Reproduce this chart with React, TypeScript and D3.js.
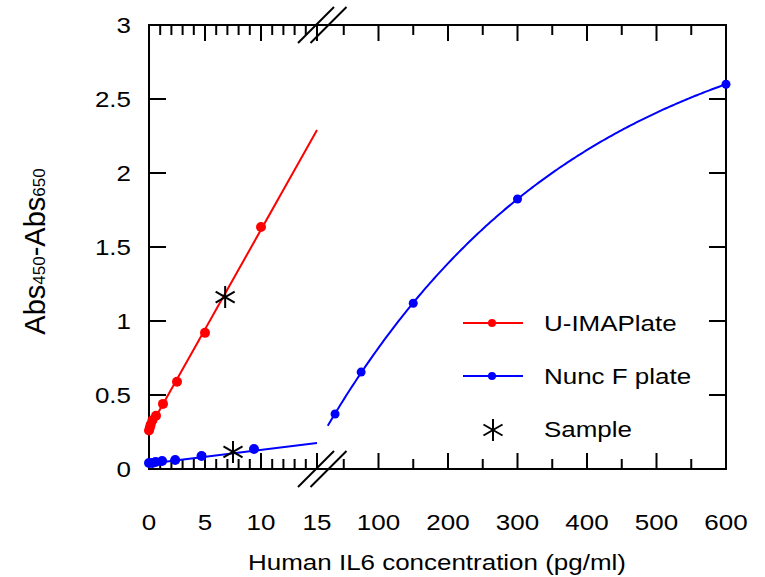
import React from "react";
import * as d3 from "d3";

// ---- data ----
const redConc = [0, 0.078, 0.156, 0.3125, 0.625, 1.25, 2.5, 5, 10];
const redAbs = [0.26, 0.28, 0.3, 0.33, 0.36, 0.44, 0.59, 0.92, 1.635];
const blueConcLow = [0, 0.293, 0.586, 1.17, 2.34, 4.69, 9.375];
const blueAbsLow = [0.04, 0.041, 0.047, 0.054, 0.061, 0.088, 0.135];
const blueConcHigh = [37.5, 75, 150, 300, 600];
const blueAbsHigh = [0.372, 0.655, 1.12, 1.824, 2.6];
const sampleConc = [6.8, 7.5];
const sampleAbs = [1.162, 0.115];

// fitted calibration curves (coefficients)
const redFit = { a: 0.27, b: 0.1347 };
const blueLowFit = { a: 0.035, b: 0.0094 };
const blueHighFit = { c: 0.07, A: 3.146, k: 0.002718 };

const leftTicks = d3.range(0, 16, 1);
const leftLabels = [0, 5, 10, 15];
const rightTicks = d3.range(50, 601, 50);
const rightLabels = [100, 200, 300, 400, 500, 600];
const yTicks = [0, 0.5, 1, 1.5, 2, 2.5, 3];

const legendItems = ["U-IMAPlate", "Nunc F plate", "Sample"];

const W = 765;
const H = 577;
const FONT = "'Liberation Sans', Arial, sans-serif";
const SX = 1.18;

const xL = d3.scaleLinear().domain([0, 15]).range([149, 317]);
const xR = d3.scaleLinear().domain([0, 600]).range([309, 726]);
const y = d3.scaleLinear().domain([0, 3]).range([469, 25]);

const T = ({ x, y: yy, anchor = "middle", size = 22, children }: any) => (
  <text
    transform={`translate(${x},${yy}) scale(${SX},1)`}
    textAnchor={anchor}
    fontSize={size}
    fontFamily={FONT}
    fill="#000"
  >
    {children}
  </text>
);

const Asterisk = ({ cx, cy, r = 11 }: any) => {
  const angles = [90, 30, 150];
  return (
    <g stroke="#000" strokeWidth={2}>
      {angles.map((a) => {
        const rad = (a * Math.PI) / 180;
        const dx = r * Math.cos(rad);
        const dy = r * Math.sin(rad);
        return <line key={a} x1={cx - dx} y1={cy - dy} x2={cx + dx} y2={cy + dy} />;
      })}
    </g>
  );
};

export default function App() {
  const x0 = 149, x1 = 726, yTop = 25, yBot = 469;

  const redLine = d3.line()([
    [xL(0), y(redFit.a)],
    [xL(15), y(redFit.a + redFit.b * 15)],
  ] as any);
  const blueLowLine = d3.line()([
    [xL(0), y(blueLowFit.a)],
    [xL(15), y(blueLowFit.a + blueLowFit.b * 15)],
  ] as any);
  const hiXs = d3.range(27, 600.001, 3);
  const blueHighLine = d3
    .line<number>()
    .x((c) => xR(c))
    .y((c) => y(blueHighFit.c + blueHighFit.A * (1 - Math.exp(-blueHighFit.k * c))))(hiXs);

  const ticksX = (
    <g stroke="#000" strokeWidth={2}>
      {leftTicks.map((t) => {
        const len = t % 5 === 0 ? 16 : 10;
        return (
          <g key={"l" + t}>
            <line x1={xL(t)} x2={xL(t)} y1={yBot} y2={yBot - len} />
            <line x1={xL(t)} x2={xL(t)} y1={yTop} y2={yTop + len} />
          </g>
        );
      })}
      {rightTicks.map((t) => {
        const len = t % 100 === 0 ? 16 : 10;
        return (
          <g key={"r" + t}>
            <line x1={xR(t)} x2={xR(t)} y1={yBot} y2={yBot - len} />
            <line x1={xR(t)} x2={xR(t)} y1={yTop} y2={yTop + len} />
          </g>
        );
      })}
      {yTicks.map((t) => (
        <g key={"y" + t}>
          <line x1={x0} x2={x0 + 17} y1={y(t)} y2={y(t)} />
          <line x1={x1} x2={x1 - 17} y1={y(t)} y2={y(t)} />
        </g>
      ))}
    </g>
  );

  const breakMark = (cy: number) => (
    <g stroke="#000" strokeWidth={2}>
      {[316, 328.5].map((cx) => (
        <line key={cx} x1={cx - 18} y1={cy + 18} x2={cx + 18} y2={cy - 18} />
      ))}
    </g>
  );

  return (
    <svg
      width={W}
      height={H}
      style={{ position: "absolute", left: 0, top: 0, background: "#fff" }}
    >
      <rect width={W} height={H} fill="#fff" />
      {/* frame */}
      <rect x={x0} y={yTop} width={x1 - x0} height={yBot - yTop} fill="none" stroke="#000" strokeWidth={2} />
      {ticksX}
      {breakMark(yBot)}
      {breakMark(yTop)}

      {/* fit lines */}
      <path d={redLine as string} stroke="#ff0000" strokeWidth={2} fill="none" />
      <path d={blueLowLine as string} stroke="#0000ff" strokeWidth={2} fill="none" />
      <path d={blueHighLine as string} stroke="#0000ff" strokeWidth={2} fill="none" />

      {/* points */}
      {redConc.map((c, i) => (
        <circle key={"rc" + i} cx={xL(c)} cy={y(redAbs[i])} r={5} fill="#ff0000" />
      ))}
      {blueConcLow.map((c, i) => (
        <circle key={"bl" + i} cx={xL(c)} cy={y(blueAbsLow[i])} r={5} fill="#0000ff" />
      ))}
      {blueConcHigh.map((c, i) => (
        <circle key={"bh" + i} cx={xR(c)} cy={y(blueAbsHigh[i])} r={4.5} fill="#0000ff" />
      ))}
      {sampleConc.map((c, i) => (
        <Asterisk key={"s" + i} cx={xL(c)} cy={y(sampleAbs[i])} />
      ))}

      {/* tick labels */}
      {leftLabels.map((t) => (
        <T key={"ll" + t} x={xL(t)} y={530}>{t}</T>
      ))}
      {rightLabels.map((t) => (
        <T key={"rl" + t} x={xR(t)} y={530}>{t}</T>
      ))}
      {yTicks.map((t) => (
        <T key={"yl" + t} x={131} y={y(t) + 8} anchor="end">{t}</T>
      ))}

      {/* axis titles */}
      <T x={437} y={570}>Human IL6 concentration (pg/ml)</T>
      <text
        transform="translate(45,251.5) rotate(-90)"
        textAnchor="middle"
        fontFamily={FONT}
        fontSize={29}
        fill="#000"
      >
        Abs<tspan fontSize={17}>450</tspan>-Abs<tspan fontSize={17}>650</tspan>
      </text>

      {/* legend */}
      <g>
        <line x1={463} x2={523} y1={323} y2={323} stroke="#ff0000" strokeWidth={2} />
        <circle cx={492} cy={323} r={4} fill="#ff0000" />
        <T x={544} y={331} anchor="start">{legendItems[0]}</T>
        <line x1={463} x2={523} y1={376} y2={376} stroke="#0000ff" strokeWidth={2} />
        <circle cx={492} cy={376} r={4} fill="#0000ff" />
        <T x={544} y={384} anchor="start">{legendItems[1]}</T>
        <Asterisk cx={493} cy={430} />
        <T x={544} y={437} anchor="start">{legendItems[2]}</T>
      </g>
    </svg>
  );
}
